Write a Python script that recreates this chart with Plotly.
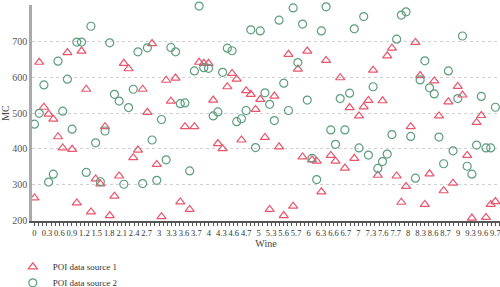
import plotly.graph_objects as go

# slot index of each sample (one value per slot for each source)
slots = list(range(99))

source1 = [264, 641, 516, 497, 483, 434, 403, 668, 399, 250,
           672, 566, 225, 317, 303, 462, 215, 269, 325, 638,
           623, 376, 397, 566, 502, 693, 357, 212, 591, 533,
           597, 253, 462, 232, 462, 641, 638, 638, 536, 415,
           401, 573, 610, 594, 425, 562, 552, 510, 538, 432,
           232, 547, 406, 215, 663, 241, 622, 378, 672, 370,
           366, 281, 646, 382, 366, 598, 347, 515, 374, 492,
           517, 535, 619, 327, 534, 659, 680, 325, 252, 296,
           462, 696, 604, 246, 331, 589, 492, 284, 531, 305,
           574, 550, 382, 208, 474, 493, 210, 246, 254]

source2 = [469, 499, 578, 308, 330, 644, 505, 594, 455, 697,
           697, 335, 741, 417, 309, 450, 695, 552, 533, 302,
           515, 566, 670, 304, 681, 425, 313, 482, 370, 682,
           670, 526, 528, 339, 617, 797, 626, 624, 492, 503,
           613, 680, 673, 476, 484, 507, 731, 404, 728, 556,
           524, 479, 758, 583, 507, 792, 640, 747, 536, 374,
           315, 728, 795, 453, 413, 540, 453, 555, 734, 403,
           768, 383, 573, 346, 365, 386, 440, 705, 772, 781,
           435, 319, 592, 645, 570, 553, 433, 359, 617, 395,
           540, 714, 352, 330, 411, 546, 403, 403, 516]

tick_labels = ["0", "0.3", "0.6", "0.9", "1.2", "1.5", "1.8", "2.1", "2.4", "2.7",
               "3", "3.3", "3.6", "3.7", "4", "4.3", "4.6", "4.7", "5", "5.3",
               "5.6", "5.7", "6", "6.3", "6.6", "6.7", "7", "7.3", "7.6", "7.7",
               "8", "8.3", "8.6", "8.7", "9", "9.3", "9.6", "9.7"]

series_names = ["POI data source 1", "POI data source 2"]

step = 98 / (len(tick_labels) - 1)
tick_vals = [i * step for i in range(len(tick_labels))]

FONT = "Liberation Serif"
RED = "#e8566c"
GREEN = "#5c9e7e"

fig = go.Figure()
fig.add_trace(go.Scatter(
    x=slots, y=source1, mode="markers", name=series_names[0], legend="legend",
    marker=dict(symbol="triangle-up-open", size=8, color=RED, line=dict(width=1.2, color=RED)),
    cliponaxis=False,
))
fig.add_trace(go.Scatter(
    x=slots, y=source2, mode="markers", name=series_names[1], legend="legend2",
    marker=dict(symbol="circle-open", size=8, color=GREEN, line=dict(width=1.2, color=GREEN)),
    cliponaxis=False,
))

legend_common = dict(
    xanchor="left", yanchor="top", orientation="v",
    font=dict(family=FONT, size=9, color="#333"),
    bgcolor="rgba(0,0,0,0)", itemwidth=30,
)

fig.update_layout(
    width=500, height=287,
    margin=dict(l=32, r=0, t=5, b=66, autoexpand=False),
    plot_bgcolor="white", paper_bgcolor="white",
    font=dict(family=FONT, size=10, color="#444"),
    showlegend=True,
    legend=dict(x=-0.041, y=-0.145, **legend_common),
    legend2=dict(x=-0.041, y=-0.219, **legend_common),
)

fig.update_xaxes(
    range=[-0.53, 98.98],
    tickmode="array", tickvals=tick_vals, ticktext=tick_labels,
    tickangle=0, ticklabeloverflow="allow",
    ticks="outside", ticklen=3, tickcolor="#555", tickwidth=1,
    minor=dict(tick0=0, dtick=step / 3, ticks="outside", ticklen=3, tickcolor="#555", tickwidth=1),
    showline=True, linecolor="#555", linewidth=1.5,
    showgrid=False, zeroline=False,
    tickfont=dict(family=FONT, size=8.5, color="#333"),
    title=dict(text="Wine", font=dict(family=FONT, size=10, color="#444"), standoff=3),
)

fig.update_yaxes(
    range=[199.9, 800.1], tickvals=[200, 300, 400, 500, 600, 700, 800],
    ticks="", showline=True, linecolor="#aaa", linewidth=2.5,
    showgrid=True, gridcolor="#cfcfcf", griddash="dot", gridwidth=1,
    zeroline=False,
    tickfont=dict(family=FONT, size=10, color="#555"),
    title=dict(text="MC", font=dict(family=FONT, size=10, color="#444"), standoff=6),
)

fig.write_html("out.html")
